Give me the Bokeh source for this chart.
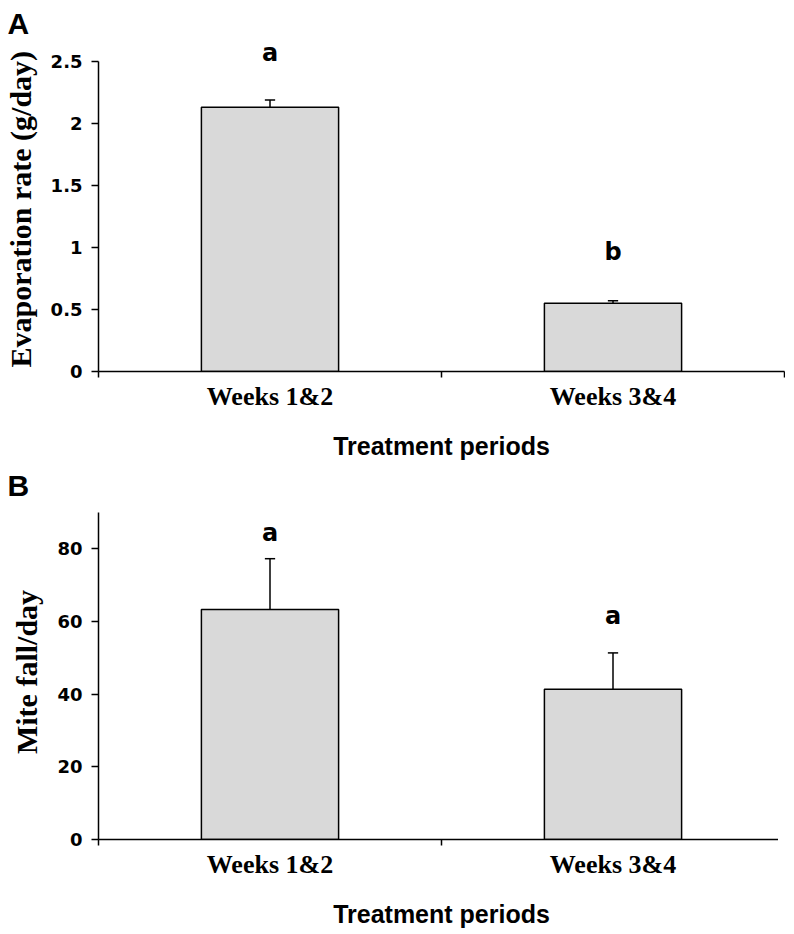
from bokeh.plotting import figure
from bokeh.models import FixedTicker, Range1d
from bokeh.layouts import column
from bokeh.embed import file_html
from bokeh.resources import INLINE
from bokeh.core.properties import value

# ---- data ----
periods = ["Weeks 1&2", "Weeks 3&4"]
evap_mean = [2.13, 0.55]
evap_err = [0.06, 0.02]
evap_letters = ["a", "b"]
evap_letter_y = [2.57, 0.96]
evap_ticks = [0, 0.5, 1, 1.5, 2, 2.5]
evap_tick_labels = ["0", "0.5", "1", "1.5", "2", "2.5"]

mite_mean = [63.2, 41.3]
mite_err = [14.0, 10.0]
mite_letters = ["a", "a"]
mite_letter_y = [84.4, 61.4]
mite_ticks = [0, 20, 40, 60, 80]
mite_tick_labels = ["0", "20", "40", "60", "80"]


def make_panel(tag, ylabel, means, errs, letters, letter_y, ticks, tick_labels,
               y_end, axis_top, frame_h, border_top, border_bottom, title_gap):
    n = len(periods)
    xs = [i + 0.5 for i in range(n)]
    tops = [m + e for m, e in zip(means, errs)]
    cap = 0.015
    p = figure(frame_width=686, frame_height=frame_h, output_backend="svg",
               toolbar_location=None,
               x_range=Range1d(0, n), y_range=Range1d(0, y_end),
               min_border_left=91, min_border_right=1,
               min_border_top=border_top, min_border_bottom=border_bottom)
    p.outline_line_color = None
    p.xgrid.visible = False
    p.ygrid.visible = False

    p.title.text = tag
    p.title.text_font = "Liberation Sans"
    p.title.text_font_style = "bold"
    p.title.text_font_size = "30px"
    p.title.text_color = "black"
    p.title.align = "left"
    p.title.offset = -91
    p.title.standoff = title_gap

    p.vbar(x=xs, top=means, bottom=0, width=0.4, fill_color="#d9d9d9",
           line_color="black", line_width=1.5)
    p.segment(x0=xs, y0=means, x1=xs, y1=tops, line_color="black", line_width=1.5)
    p.segment(x0=[x - cap for x in xs], y0=tops, x1=[x + cap for x in xs], y1=tops,
              line_color="black", line_width=1.5)
    p.text(x=xs, y=letter_y, text=letters, text_font=value("DejaVu Sans"),
           text_font_style="bold", text_font_size="24px", text_align="center",
           text_baseline="middle", text_color="black")

    xa = p.xaxis[0]
    xa.ticker = FixedTicker(ticks=xs, minor_ticks=list(range(n + 1)))
    xa.major_label_overrides = {x: lab for x, lab in zip(xs, periods)}
    xa.major_tick_out = 0
    xa.major_tick_in = 0
    xa.minor_tick_out = 6
    xa.minor_tick_in = 0
    xa.minor_tick_line_color = "black"
    xa.minor_tick_line_width = 1.5
    xa.axis_line_color = "black"
    xa.axis_line_width = 1.5
    xa.major_label_text_font = "Liberation Serif"
    xa.major_label_text_font_style = "bold"
    xa.major_label_text_font_size = "26px"
    xa.major_label_text_color = "black"
    xa.major_label_standoff = 4
    xa.axis_label = "Treatment periods"
    xa.axis_label_text_font = "Liberation Sans"
    xa.axis_label_text_font_style = "bold"
    xa.axis_label_text_font_size = "25px"
    xa.axis_label_text_color = "black"
    xa.axis_label_standoff = 18

    ya = p.yaxis[0]
    ya.ticker = FixedTicker(ticks=ticks, minor_ticks=[])
    ya.major_label_overrides = {t: lab for t, lab in zip(ticks, tick_labels)}
    ya.bounds = (0, axis_top)
    ya.major_tick_out = 7
    ya.major_tick_in = 0
    ya.major_tick_line_color = "black"
    ya.major_tick_line_width = 1.5
    ya.axis_line_color = "black"
    ya.axis_line_width = 1.5
    ya.major_label_text_font = "DejaVu Sans"
    ya.major_label_text_font_style = "bold"
    ya.major_label_text_font_size = "18px"
    ya.major_label_text_color = "black"
    ya.major_label_standoff = 9
    ya.axis_label = ylabel
    ya.axis_label_text_font = "Liberation Serif"
    ya.axis_label_text_font_style = "bold"
    ya.axis_label_text_font_size = "30px"
    ya.axis_label_text_color = "black"
    ya.axis_label_standoff = 11
    return p


pa = make_panel("A", "Evaporation  rate (g/day)", evap_mean, evap_err, evap_letters,
                evap_letter_y, evap_ticks, evap_tick_labels, 2.677, 2.5, 332, 39, 92, 0)
pb = make_panel("B", "Mite fall/day", mite_mean, mite_err, mite_letters,
                mite_letter_y, mite_ticks, mite_tick_labels, 92.1, 90, 335, 41, 86, 6)

layout = column(pa, pb, spacing=0)
open("out.html", "w").write(file_html(layout, INLINE))
